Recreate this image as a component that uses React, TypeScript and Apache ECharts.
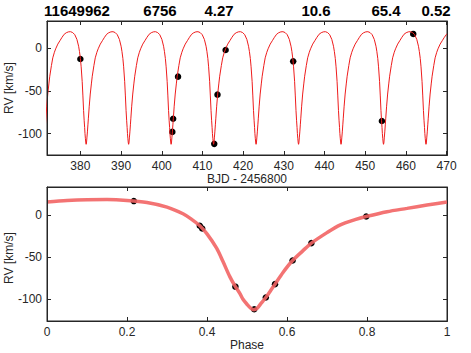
import React, { useEffect, useRef } from "react";
import * as echarts from "echarts";

// Header values shown above the top panel
const headerTexts = ["11649962", "6756", "4.27", "10.6", "65.4", "0.52"];
const headerX = [77, 160, 219, 316, 386, 436];

// Observations vs time (BJD - 2456800)
const obsTime = [380.0, 402.6, 402.8, 404.0, 412.9, 413.7, 415.7, 432.3, 454.1, 461.8];
const obsTimeRV = [-12.9, -98, -82.6, -33.5, -112, -54.5, -2.3, -15.6, -85.3, 16.4];

// Observations vs phase
const obsPhase = [0.217, 0.382, 0.388, 0.471, 0.518, 0.547, 0.57, 0.614, 0.661, 0.798];
const obsPhaseRV = [17.2, -12.3, -15.5, -85, -112, -98, -82, -53.8, -33, -1.2];

// Model RV curve over one phase
const modelPhase = [
  0, 0.05, 0.1, 0.15, 0.2, 0.25, 0.3, 0.34, 0.36, 0.382, 0.4, 0.424, 0.44, 0.457,
  0.471, 0.482, 0.49, 0.5, 0.51, 0.517, 0.525, 0.535, 0.547, 0.56, 0.57, 0.59,
  0.614, 0.64, 0.661, 0.7, 0.732, 0.77, 0.8, 0.85, 0.9, 0.95, 1.0,
];
const modelRV = [
  16, 17.8, 18.8, 19, 18, 15.5, 10, 2, -4, -12.3, -22, -39, -55, -73,
  -85, -93, -100, -106, -111, -112.5, -111, -105, -98, -89, -82, -68,
  -53.8, -42, -33, -20.5, -11.5, -5, -1, 4.5, 8.5, 12.5, 16,
];

// Orbit timing (minima spacing)
const modelEpoch = 376.02;
const modelPeriod = 10.44;
const cycles = [-1, 0, 1, 2, 3, 4, 5, 6, 7, 8, 9];

const timeTicks = [380, 390, 400, 410, 420, 430, 440, 450, 460, 470];
const phaseTicks = [0, 0.2, 0.4, 0.6, 0.8, 1];
const rvTicks = [-100, -50, 0];
const yTitle = "RV [km/s]";

// Axis extents
const timeRange = [371.8, 470.1];
const phaseRange = [0, 1];
const rvRangeTop = [-125, 31.5];
const rvRangeBottom = [-126, 34];

const FONT = "'Liberation Sans', Arial, Helvetica, sans-serif";
const AX = "#262626";

// Panel layout (pixels)
const PANELS = [
  { left: 47, top: 21, width: 400, height: 134 },
  { left: 47, top: 187, width: 400, height: 134 },
];

export default function App() {
  const ref = useRef<HTMLDivElement>(null);
  useEffect(() => {
    if (!ref.current) return;
    const chart = echarts.init(ref.current, undefined, { renderer: "svg" });

    const tiled: number[][] = [];
    cycles.forEach((k) => {
      modelPhase.forEach((p, i) => {
        tiled.push([modelEpoch + (k + p) * modelPeriod, modelRV[i]]);
      });
    });

    const line = () => ({ show: true, onZero: false, lineStyle: { color: AX, width: 1 } });
    const tick = (vals: number[]) => ({
      show: true,
      inside: true,
      length: 4,
      customValues: vals,
      lineStyle: { color: AX, width: 1 },
    });
    const label = (vals: number[], fmt?: (v: number) => string) => ({
      show: true,
      color: AX,
      fontSize: 12,
      fontFamily: FONT,
      margin: 5,
      customValues: vals,
      ...(fmt ? { formatter: fmt } : {}),
    });

    const yTitleText = (y: number) => ({
      type: "text",
      x: 8.5,
      y,
      rotation: Math.PI / 2,
      style: {
        text: yTitle,
        fontSize: 12,
        fontFamily: FONT,
        fill: AX,
        align: "center",
        verticalAlign: "middle",
      },
    });

    // Box frame for each panel
    const frameRect = (p: { left: number; top: number; width: number; height: number }) => ({
      type: "rect",
      silent: true,
      z: 50,
      shape: { x: p.left + 0.5, y: p.top + 0.5, width: p.width, height: p.height },
      style: { fill: "transparent", stroke: "#262626", lineWidth: 1 },
    });

    chart.setOption({
      animation: false,
      grid: PANELS.map((p) => ({
        ...p,
        show: true,
        borderColor: AX,
        borderWidth: 1,
        outerBoundsMode: "none",
      })),
      graphic: [
        ...headerTexts.map((t, i) => ({
          type: "text",
          x: headerX[i],
          y: 10,
          style: {
            text: t,
            fontSize: 15,
            fontWeight: "bold",
            fontFamily: FONT,
            fill: "#000",
            align: "center",
            verticalAlign: "middle",
          },
        })),
        yTitleText(88),
        yTitleText(258),
        frameRect(PANELS[0]),
        frameRect(PANELS[1]),
      ],
      xAxis: [
        {
          type: "value", gridIndex: 0, min: timeRange[0], max: timeRange[1], position: "bottom",
          axisLine: line(), axisTick: tick(timeTicks), axisLabel: label(timeTicks),
          splitLine: { show: false },
          name: "BJD - 2456800", nameLocation: "middle", nameGap: 16,
          nameTextStyle: { color: AX, fontSize: 12, fontFamily: FONT },
        },
        {
          type: "value", gridIndex: 1, min: phaseRange[0], max: phaseRange[1], position: "bottom",
          axisLine: line(), axisTick: tick(phaseTicks),
          axisLabel: label(phaseTicks, (v: number) => String(Math.round(v * 10) / 10)),
          splitLine: { show: false },
          name: "Phase", nameLocation: "middle", nameGap: 17,
          nameTextStyle: { color: AX, fontSize: 12, fontFamily: FONT },
        },
        {
          type: "value", gridIndex: 0, min: timeRange[0], max: timeRange[1], position: "top",
          axisLine: line(), axisTick: tick(timeTicks),
          axisLabel: { show: true, customValues: timeTicks, formatter: () => "" },
          splitLine: { show: false },
        },
        {
          type: "value", gridIndex: 1, min: phaseRange[0], max: phaseRange[1], position: "top",
          axisLine: line(), axisTick: tick(phaseTicks),
          axisLabel: { show: true, customValues: phaseTicks, formatter: () => "" },
          splitLine: { show: false },
        },
      ],
      yAxis: [
        {
          type: "value", gridIndex: 0, min: rvRangeTop[0], max: rvRangeTop[1], position: "left",
          axisLine: line(), axisTick: tick(rvTicks), axisLabel: label(rvTicks),
          splitLine: { show: false },
        },
        {
          type: "value", gridIndex: 1, min: rvRangeBottom[0], max: rvRangeBottom[1], position: "left",
          axisLine: line(), axisTick: tick(rvTicks), axisLabel: label(rvTicks),
          splitLine: { show: false },
        },
        {
          type: "value", gridIndex: 0, min: rvRangeTop[0], max: rvRangeTop[1], position: "right",
          axisLine: line(), axisTick: tick(rvTicks),
          axisLabel: { show: true, customValues: rvTicks, formatter: () => "" },
          splitLine: { show: false },
        },
        {
          type: "value", gridIndex: 1, min: rvRangeBottom[0], max: rvRangeBottom[1], position: "right",
          axisLine: line(), axisTick: tick(rvTicks),
          axisLabel: { show: true, customValues: rvTicks, formatter: () => "" },
          splitLine: { show: false },
        },
      ],
      series: [
        {
          type: "line", xAxisIndex: 0, yAxisIndex: 0, data: tiled,
          showSymbol: false, clip: true,
          lineStyle: { color: "#ee1c1c", width: 1 },
        },
        {
          type: "scatter", xAxisIndex: 0, yAxisIndex: 0,
          data: obsTime.map((t, i) => [t, obsTimeRV[i]]),
          symbolSize: 6.5, itemStyle: { color: "#000", opacity: 1 },
        },
        {
          type: "line", xAxisIndex: 1, yAxisIndex: 1,
          data: modelPhase.map((p, i) => [p, modelRV[i]]),
          showSymbol: false, smooth: 0.3,
          lineStyle: { color: "#f26464", width: 3.5, opacity: 0.9 },
        },
        {
          type: "scatter", xAxisIndex: 1, yAxisIndex: 1,
          data: obsPhase.map((p, i) => [p, obsPhaseRV[i]]),
          symbolSize: 6.5, itemStyle: { color: "#000", opacity: 1 },
        },
        {
          type: "line", xAxisIndex: 2, yAxisIndex: 2, data: [[400, 0]],
          showSymbol: false, silent: true, lineStyle: { opacity: 0 },
        },
        {
          type: "line", xAxisIndex: 3, yAxisIndex: 3, data: [[0.5, 0]],
          showSymbol: false, silent: true, lineStyle: { opacity: 0 },
        },
      ],
    });

    return () => chart.dispose();
  }, []);
  return (
    <div
      ref={ref}
      style={{ position: "fixed", left: 0, top: 0, width: 471, height: 353, background: "#fff" }}
    />
  );
}
